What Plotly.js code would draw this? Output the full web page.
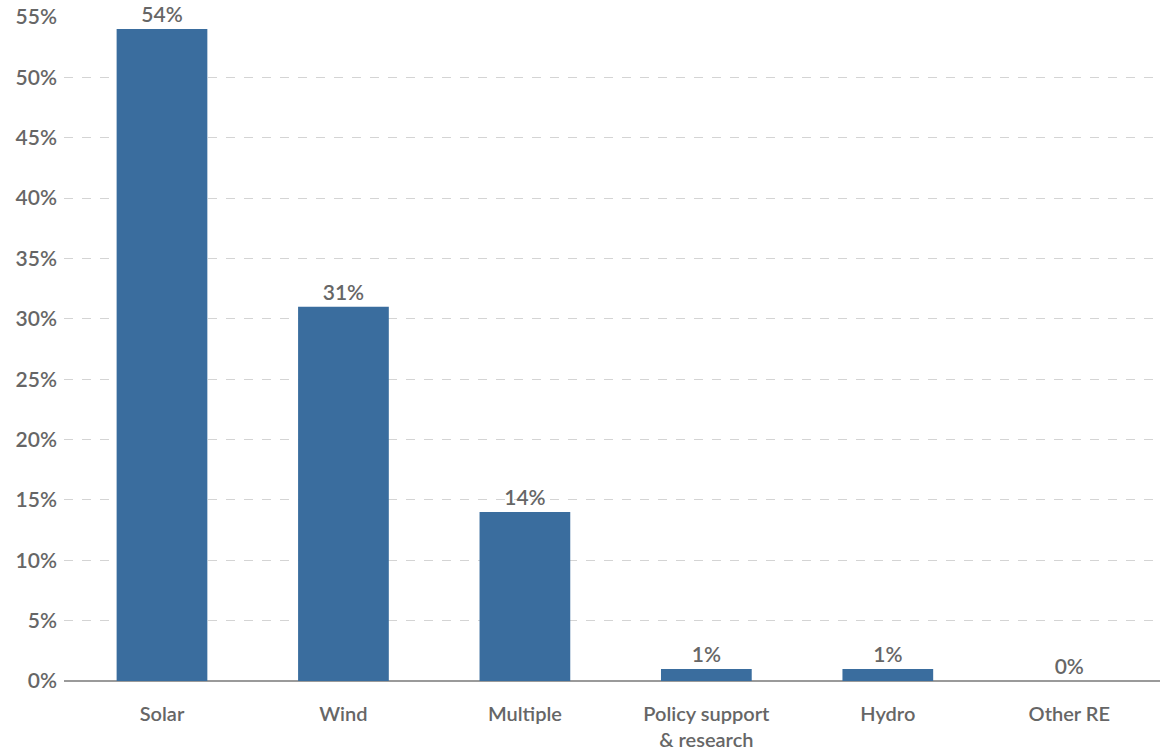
<!DOCTYPE html>
<html>
<head>
<meta charset="utf-8">
<script src="https://cdn.plot.ly/plotly-3.0.1.min.js"></script>
<style>html,body{margin:0;padding:0;background:#fff;}#chart{width:1160px;height:754px;}</style>
</head>
<body>
<div id="chart"></div>
<script>
const categories = ["Solar", "Wind", "Multiple", "Policy support<br>& research", "Hydro", "Other RE"];
const shares = [54, 31, 14, 1, 1, 0];
const labels = ["54%", "31%", "14%", "1%", "1%", "0%"];
const yTicks = [0, 5, 10, 15, 20, 25, 30, 35, 40, 45, 50, 55];

const FONT = "Lato, 'Open Sans', sans-serif";
const TXT = "#666666";

const trace = {
  type: "bar",
  x: categories,
  y: shares,
  width: 0.5,
  marker: {color: "#3a6d9e"},
  text: labels,
  textposition: "outside",
  textfont: {family: FONT, size: 21, color: TXT, weight: 600},
  cliponaxis: false,
  hoverinfo: "skip"
};

const layout = {
  width: 1160,
  height: 754,
  margin: {l: 64, r: 0, t: 17, b: 73},
  paper_bgcolor: "#ffffff",
  plot_bgcolor: "#ffffff",
  showlegend: false,
  font: {family: FONT, color: TXT},
  xaxis: {
    type: "category",
    range: [-0.54, 5.5],
    showgrid: false,
    showline: false,
    ticks: "",
    ticklabelstandoff: 19,
    automargin: false,
    tickfont: {size: 20, color: TXT, weight: 600},
    fixedrange: true
  },
  yaxis: {
    range: [0, 55],
    tickvals: yTicks,
    ticktext: yTicks.map(v => v + "%"),
    showgrid: true,
    gridcolor: "#d4d4d4",
    griddash: "dash",
    gridwidth: 1,
    zeroline: true,
    zerolinecolor: "#9a9a9a",
    zerolinewidth: 2,
    showline: false,
    ticks: "",
    ticklabelstandoff: 6,
    automargin: false,
    tickfont: {size: 21, color: TXT, weight: 600},
    fixedrange: true
  }
};

Plotly.newPlot("chart", [trace], layout, {displayModeBar: false, staticPlot: true});
</script>
</body>
</html>
